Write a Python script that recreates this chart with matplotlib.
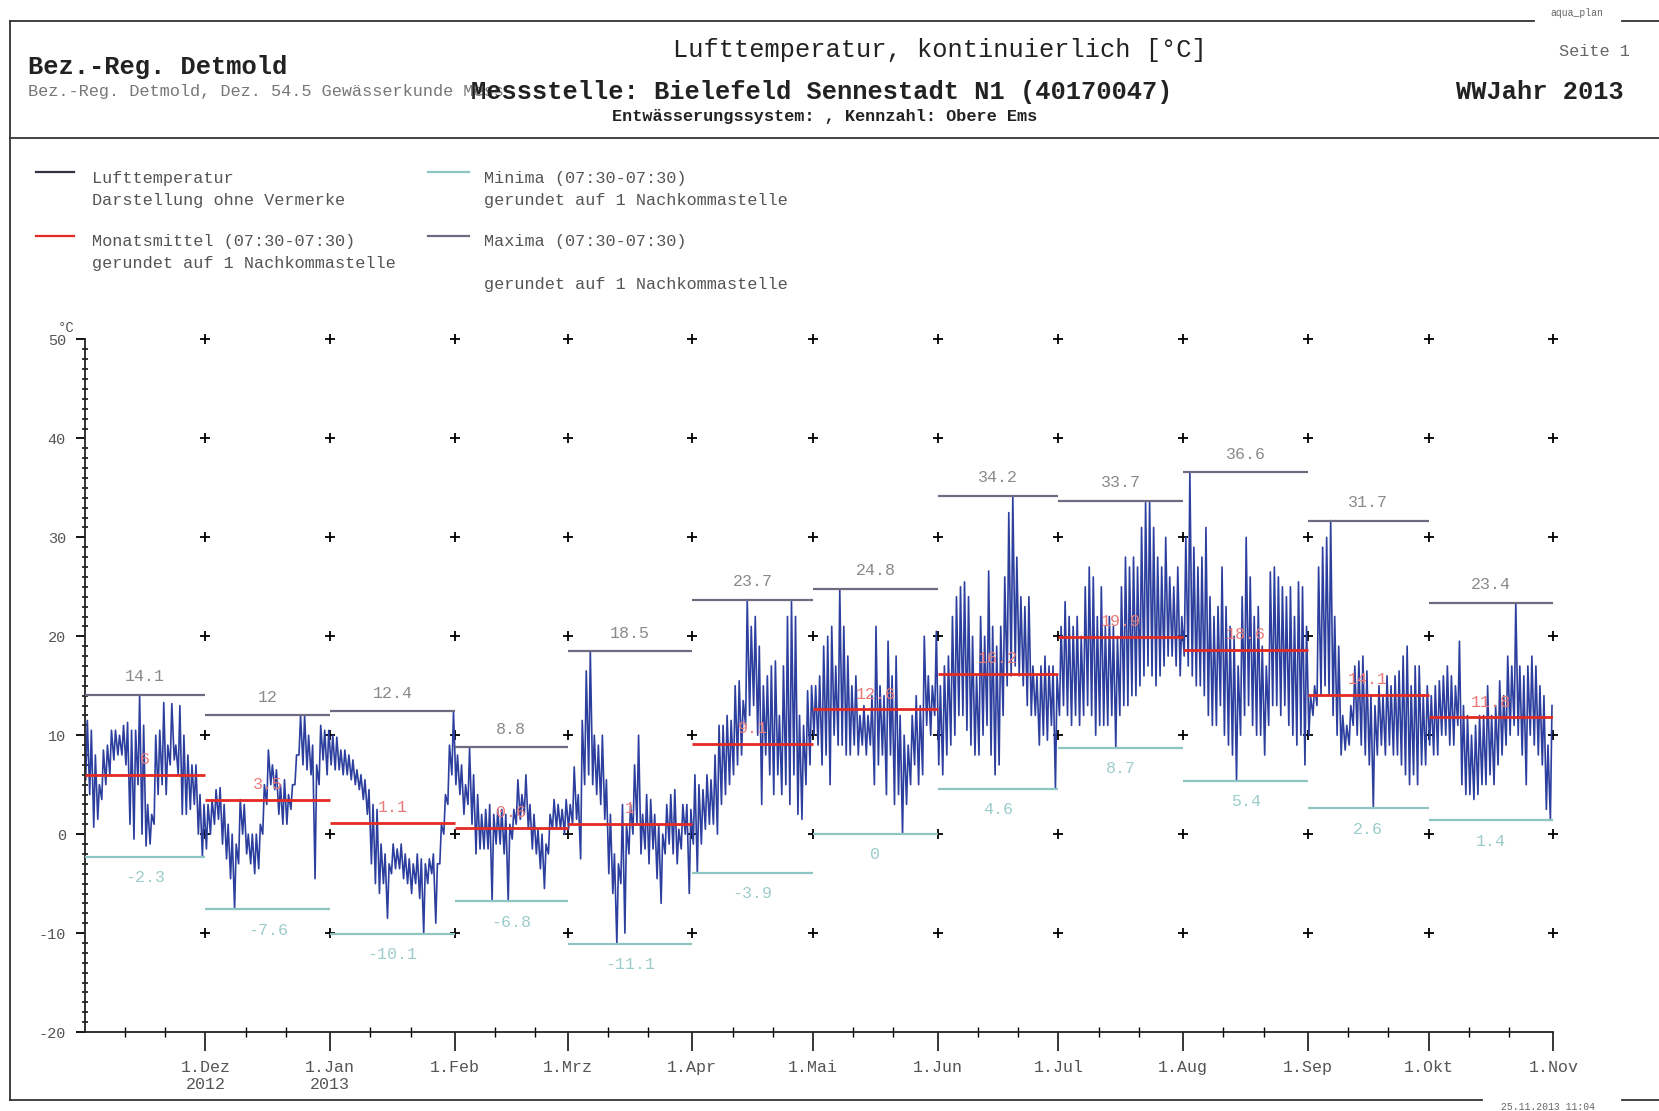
import matplotlib
matplotlib.use("Agg")
import matplotlib.pyplot as plt
from matplotlib.lines import Line2D
import numpy as np

W, H = 1659, 1111

# -------------------------
# Data (read from the report)
# -------------------------
MONTH_DAYS = [30, 31, 31, 28, 31, 30, 31, 30, 31, 31, 30, 31]
TICK_LABELS = ["1.Dez\n2012", "1.Jan\n2013", "1.Feb", "1.Mrz", "1.Apr", "1.Mai",
               "1.Jun", "1.Jul", "1.Aug", "1.Sep", "1.Okt", "1.Nov"]

MONTH_MAX = [14.1, 12, 12.4, 8.8, 18.5, 23.7, 24.8, 34.2, 33.7, 36.6, 31.7, 23.4]
MONTH_MIN = [-2.3, -7.6, -10.1, -6.8, -11.1, -3.9, 0, 4.6, 8.7, 5.4, 2.6, 1.4]
MONTH_MEAN = [6, 3.5, 1.1, 0.6, 1, 9.1, 12.6, 16.2, 19.9, 18.6, 14.1, 11.8]

# daily highs / lows of the continuous record, one list per month
nov_hi = [11.5, 10.5, 8, 5, 8.5, 9, 10.5, 10.5, 10, 11, 11.3, 10.5, 10.5, 14.1, 11,
          3, 2, 10, 10.5, 13.3, 9, 13.2, 9, 13, 10, 8, 7, 7, 4, 3]
nov_lo = [5.5, 4, 0.7, 1.5, 3.5, 5, 6, 7.5, 8, 8, 7, 1, -0.5, 5, 0,
          -1.2, -1, 1, 4, 5, 4, 7, 7.5, 6, 2, 2, 2.5, 3, 0, -2.3]
dez_hi = [3, 3.5, 4.5, 4.7, 3, 1, 0, -1, 3.5, 3, 0, 0, 0, 1, 5, 8.5,
          7, 6.5, 5, 5.5, 4, 5, 8, 12, 12, 10, 9, 7, 11, 10.5, 10.5]
dez_lo = [-1.5, 0, 1, 1.5, -1, -2.5, -4.5, -7.6, -3, 0, -2, -3, -4, -3.5, 0, 3,
          5, 4.5, 2, 1, 1, 2.5, 5, 8, 7, 6.5, 6, -4.5, 5, 7.5, 6]
jan_hi = [10, 9.8, 8.5, 8.5, 8, 7.5, 6.5, 6, 5.5, 4.5, 3, 2.5, -1, -2, -3, -1,
          -1.5, -1, -2, -2.5, -3, -2, -2.5, -3, -2.5, -2, -3, 1, 4, 9, 12.4]
jan_lo = [7, 6.5, 6.5, 6, 6, 5.5, 5, 4.5, 3.5, 2, -3, -5, -6, -5, -8.5, -4,
          -3.5, -3.5, -4.5, -5, -6, -5, -6.5, -10.1, -5, -4, -9, -3, 0, 3, 6]
feb_hi = [8, 7, 5, 8.7, 6, 4, 2, 2.5, 3, 2, 2.5, 2.5, 2, 1, 2.5, 5.5,
          4, 6, 3, 2, 0.5, 0, -1, 2, 3.5, 3, 2.5, 3.5]
feb_lo = [5, 4, 2, 3, 1, -2, -1.5, -1.5, -1.5, -6.8, -1, -1, -2, -6.8, -0.5, 1,
          1.5, 2, 0.5, -1.5, -2, -3.5, -5.5, -2, 0.5, 0.5, 0.5, 0]
mrz_hi = [3, 6.8, 4, 11.5, 16.5, 18.5, 10, 9, 10, 5.5, 2, -2, -3, 3, 1, 3,
          7, 10, 2, 4, 3.5, 2, 1, 0, 3, 4, 4.5, 0.5, 3, 3, 2.5]
mrz_lo = [0.5, 1, 1.5, -2.5, 5, 6, 5, 4, 3, 1.5, -4, -6, -11.1, -5, -10, -2,
          0, 1, -2, -1.5, -3, -1.5, -4.5, -7, -2, -1, -2, -3, -1.5, 0, -6]
apr_hi = [6, 5, 4.5, 6, 5.5, 8, 11, 11, 12, 11.5, 15, 15.5, 13.5, 23.7, 21,
          22, 19, 15, 16, 17, 17.5, 12, 17, 22, 23.5, 22, 12, 11, 14.5, 15]
apr_lo = [-1, -3.9, -1, 0.5, 1, 1, 0, 3, 4, 5, 6, 7, 8, 11, 12,
          13, 10, 3, 8, 6, 4, 6, 4, 5, 3, 6, 2, 1.5, 5, 7]
mai_hi = [15, 16, 19, 20, 21, 17, 24.8, 21, 18, 15, 16, 12, 13, 12, 14, 21,
          15, 14, 19.5, 16, 18, 12, 10, 9, 12, 14, 13, 20, 16, 15, 20.5]
mai_lo = [10, 9, 7, 8, 5, 10, 9, 9, 8, 8, 9, 8, 9, 8, 9, 5,
          7, 8, 4, 8, 3, 4, 0, 3, 5, 7, 5, 6, 11, 10, 12]
jun_hi = [15, 17, 18, 22, 24, 25, 25.5, 24, 20, 16, 22, 20, 26.6, 21, 19,
          21, 26, 32.5, 34.2, 28, 24, 23, 24, 17, 16, 17, 18, 17, 17, 16]
jun_lo = [7, 6, 8, 9, 10, 12, 12, 10.5, 9, 8, 8, 10, 11, 8, 6,
          7, 12, 15, 16, 17, 16, 15, 13, 12, 12, 9, 10, 9.5, 11, 4.6]
jul_hi = [21, 23.5, 22, 21, 22, 20, 25, 27, 26, 22, 25, 21, 22, 21, 20, 25,
          28, 27, 28, 27, 31, 33.5, 33.7, 31, 28, 27, 30, 26, 25, 27, 22]
jul_lo = [12, 13, 12, 11, 12, 11, 12, 13, 12, 10, 11, 11, 11, 12, 8.7, 12,
          13, 13, 14, 14, 15, 16, 17, 16, 15, 16, 17, 18, 18, 17, 16]
aug_hi = [30, 36.6, 29, 27, 28, 31, 24, 22, 23, 27, 23, 21, 20, 17, 24, 30,
          26, 22, 23, 19, 17, 26.5, 27, 26, 25, 24, 25, 22, 25.5, 25, 21]
aug_lo = [18, 17, 16, 15, 15, 14, 12, 11, 11, 13, 10, 9, 8, 5.4, 10, 12,
          13, 11, 10, 10, 8, 11, 13, 13, 12, 13, 11, 10, 9, 10, 7]
sep_hi = [14, 15, 27, 29, 30, 31.7, 22, 19, 12, 11, 13, 17, 17.5, 18, 16.5,
          14, 13, 15, 14, 16, 15, 16, 16.5, 18, 19, 15, 17, 17, 14, 15]
sep_lo = [10, 12, 13, 14, 15, 14, 12, 10, 8, 8.5, 9, 11, 10, 9, 8,
          7, 2.6, 8, 9, 8, 9, 8, 8, 7, 6, 5, 6, 5, 7, 7]
okt_hi = [14, 15, 15.5, 16, 17, 16, 15, 19.5, 13, 12, 10, 11, 12, 12, 15, 12,
          13, 15.5, 14, 18, 17, 23.4, 17, 16, 17, 18, 17, 15, 14, 9, 13]
okt_lo = [9, 8, 8, 10, 10, 9, 9, 11, 5, 4, 4, 3.5, 4, 5, 5, 6,
          5, 7, 8, 9, 10, 11, 10, 8, 5, 10, 9, 8, 7, 2.5, 1.4]

DAILY_HI = [nov_hi, dez_hi, jan_hi, feb_hi, mrz_hi, apr_hi,
            mai_hi, jun_hi, jul_hi, aug_hi, sep_hi, okt_hi]
DAILY_LO = [nov_lo, dez_lo, jan_lo, feb_lo, mrz_lo, apr_lo,
            mai_lo, jun_lo, jul_lo, aug_lo, sep_lo, okt_lo]

# colours
C_SERIES = "#2c3f9e"
C_MEAN = "#e42a22"
C_MAX = "#6e6a80"
C_MIN = "#8ec4c2"
C_TEXT = "#222222"
C_GREY = "#666666"


def fx(x):
    return x / W


def fy(y):
    return 1 - y / H


def hline(fig, x0, x1, y, **kw):
    fig.add_artist(Line2D([fx(x0), fx(x1)], [fy(y), fy(y)], **kw))


def main():
    plt.rcParams["font.family"] = ["Liberation Mono", "DejaVu Sans Mono"]
    plt.rcParams["axes.unicode_minus"] = False

    fig = plt.figure(figsize=(W / 100, H / 100), dpi=100)
    fig.patch.set_facecolor("white")

    # -------------------------
    # 1. Frame and header
    # -------------------------
    frame = dict(color="#333333", lw=1.3)
    hline(fig, 10, 1534, 21, **frame)
    hline(fig, 1622, 1659, 21, **frame)
    hline(fig, 10, 1659, 137.5, **frame)
    hline(fig, 10, 1482, 1100, **frame)
    hline(fig, 1622, 1659, 1100, **frame)
    fig.add_artist(Line2D([fx(10), fx(10)], [fy(21), fy(1100)], **frame))

    fig.text(fx(1577), fy(13), "aqua_plan", fontsize=7, color=C_GREY,
             ha="center", va="center")
    fig.text(fx(1548), fy(1107), "25.11.2013 11:04", fontsize=7, color=C_GREY,
             ha="center", va="center")

    fig.text(fx(28), fy(67), "Bez.-Reg. Detmold", fontsize=18.3,
             fontweight="bold", color=C_TEXT, va="center")
    fig.text(fx(28), fy(91), "Bez.-Reg. Detmold, Dez. 54.5 Gewässerkunde Mess",
             fontsize=12.2, color="#777777", va="center")
    fig.text(fx(940), fy(50), "Lufttemperatur, kontinuierlich [°C]",
             fontsize=18.3, color=C_TEXT, ha="center", va="center")
    fig.text(fx(471), fy(92), "Messstelle: Bielefeld Sennestadt N1 (40170047)",
             fontsize=18.3, fontweight="bold", color=C_TEXT, va="center")
    fig.text(fx(825), fy(116), "Entwässerungssystem: , Kennzahl: Obere Ems",
             fontsize=12.2, fontweight="bold", color=C_TEXT,
             ha="center", va="center")
    fig.text(fx(1630), fy(52), "Seite 1", fontsize=12.2, color=C_GREY,
             ha="right", va="center")
    fig.text(fx(1624), fy(92), "WWJahr 2013", fontsize=18.3,
             fontweight="bold", color=C_TEXT, ha="right", va="center")

    # -------------------------
    # 2. Legend (drawn by hand, like the report)
    # -------------------------
    leg_txt = dict(fontsize=12.2, color="#555555", va="center")
    hline(fig, 36, 74, 172, color="#333344", lw=1.6)
    fig.text(fx(92), fy(178), "Lufttemperatur", **leg_txt)
    fig.text(fx(92), fy(200), "Darstellung ohne Vermerke", **leg_txt)
    hline(fig, 36, 74, 236, color=C_MEAN, lw=1.6)
    fig.text(fx(92), fy(241), "Monatsmittel (07:30-07:30)", **leg_txt)
    fig.text(fx(92), fy(263), "gerundet auf 1 Nachkommastelle", **leg_txt)
    hline(fig, 428, 469, 172, color=C_MIN, lw=1.6)
    fig.text(fx(484), fy(178), "Minima (07:30-07:30)", **leg_txt)
    fig.text(fx(484), fy(200), "gerundet auf 1 Nachkommastelle", **leg_txt)
    hline(fig, 428, 469, 236, color=C_MAX, lw=1.6)
    fig.text(fx(484), fy(241), "Maxima (07:30-07:30)", **leg_txt)
    fig.text(fx(484), fy(285), "gerundet auf 1 Nachkommastelle", **leg_txt)

    # -------------------------
    # 3. Plot area
    # -------------------------
    x_left, x_right, y_top, y_bot = 84.7, 1553.4, 339.5, 1032
    ax = fig.add_axes([fx(x_left), fy(y_bot), (x_right - x_left) / W,
                       (y_bot - y_top) / H])
    ax.set_xlim(0, 365)
    ax.set_ylim(-20, 50)
    ax.patch.set_alpha(0)
    for side in ("top", "right"):
        ax.spines[side].set_visible(False)
    for side in ("left", "bottom"):
        ax.spines[side].set_color("#222222")
        ax.spines[side].set_linewidth(1.3)

    starts = np.concatenate([[0], np.cumsum(MONTH_DAYS)])

    # continuous series: low in the morning, high in the afternoon
    t, v = [], []
    for m, (his, los) in enumerate(zip(DAILY_HI, DAILY_LO)):
        assert len(his) == MONTH_DAYS[m] and len(los) == MONTH_DAYS[m]
        for d, (hi, lo) in enumerate(zip(his, los)):
            t += [starts[m] + d + 0.25, starts[m] + d + 0.65]
            v += [lo, hi]
    ax.plot(t, v, color=C_SERIES, lw=1.2, zorder=2)

    # monthly max / min / mean
    for m in range(12):
        x0, x1 = starts[m], starts[m + 1]
        xc = (x0 + x1) / 2
        ax.hlines(MONTH_MAX[m], x0, x1, color=C_MAX, lw=1.6, zorder=3)
        ax.hlines(MONTH_MIN[m], x0, x1, color=C_MIN, lw=1.6, zorder=3)
        ax.hlines(MONTH_MEAN[m], x0, x1, color=C_MEAN, lw=2.0, zorder=4)
        ax.annotate(f"{MONTH_MAX[m]:g}", (xc, MONTH_MAX[m]), xytext=(0, 13),
                    textcoords="offset points", ha="center", va="center",
                    fontsize=12, color="#8a8a8a")
        ax.annotate(f"{MONTH_MIN[m]:g}", (xc, MONTH_MIN[m]), xytext=(0, -15),
                    textcoords="offset points", ha="center", va="center",
                    fontsize=12, color="#9ccccb")
        ax.annotate(f"{MONTH_MEAN[m]:g}", (xc, MONTH_MEAN[m]), xytext=(0, 11),
                    textcoords="offset points", ha="center", va="center",
                    fontsize=12, color="#e87a78", zorder=5)

    # '+' grid marks
    gx, gy = np.meshgrid(starts[1:], np.arange(-10, 51, 10))
    ax.plot(gx.ravel(), gy.ravel(), "+", color="black", ms=6.5, mew=1.3,
            ls="none", zorder=1, clip_on=False)

    # ticks
    ax.set_yticks(np.arange(-20, 51, 10))
    ax.set_yticks(np.arange(-20, 51, 1), minor=True)
    ax.tick_params(axis="y", which="major", direction="out", length=6.5,
                   width=1.3, pad=7, labelsize=11, labelcolor="#555555")
    ax.tick_params(axis="y", which="minor", direction="inout", length=4,
                   width=1.1)

    ax.set_xticks(starts[1:])
    ax.set_xticklabels(TICK_LABELS, linespacing=1.2)
    minor_x = [s + k for s in starts[:-1] for k in (10, 20)]
    ax.set_xticks(minor_x, minor=True)
    ax.tick_params(axis="x", which="major", direction="out", length=14,
                   width=1.1, pad=6, labelsize=12, labelcolor="#555555")
    ax.tick_params(axis="x", which="minor", direction="inout", length=7,
                   width=1.0)

    fig.text(fx(66), fy(328), "°C", fontsize=10, color="#555555",
             ha="center", va="center")

    fig.savefig("out.png", dpi=100)
    plt.close(fig)


if __name__ == "__main__":
    main()
